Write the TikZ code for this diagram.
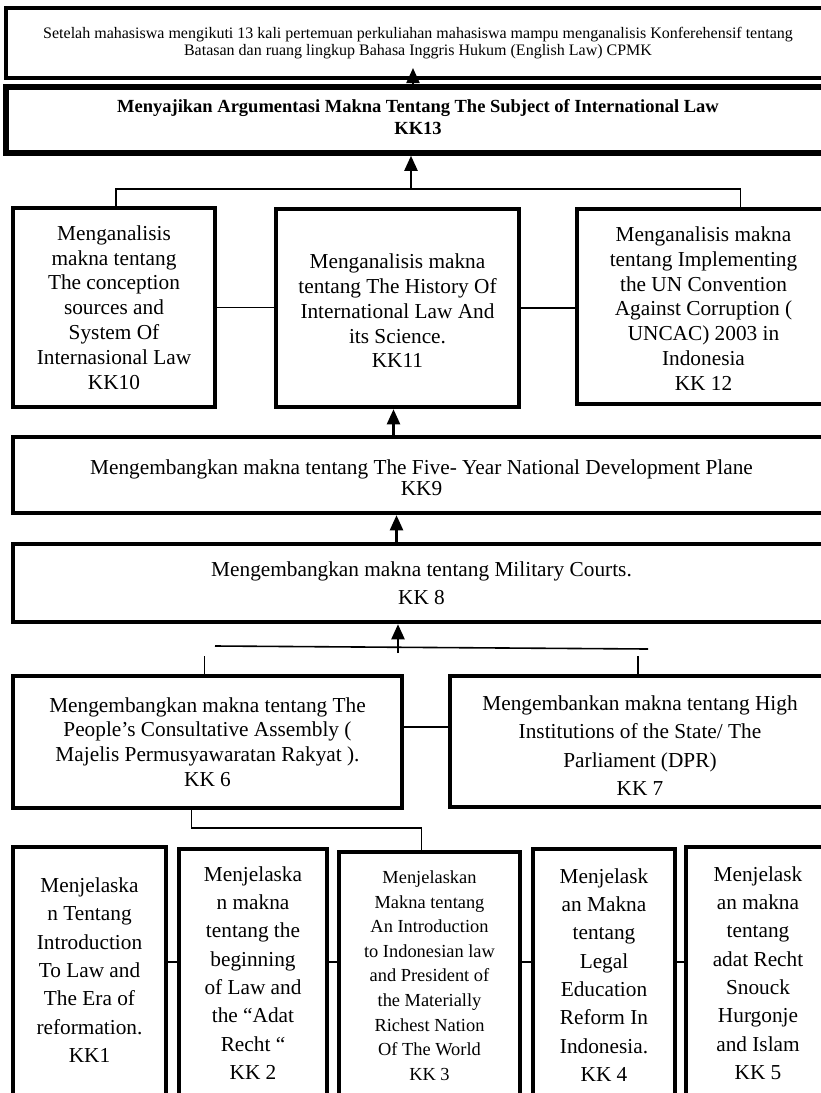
\documentclass[tikz,border=0pt]{standalone}
\usepackage{fontspec}
\setmainfont{Liberation Serif}
\usetikzlibrary{arrows.meta,fit}
\tikzset{
  kk map/.style={
    x=1pt, y=-1pt,
    box/.style={draw, line width=4.5pt, inner sep=0pt},
    label/.style={align=center, inner sep=0pt},
    link/.style={line width=1.6pt},
    up/.style={line width=2.2pt, -{Triangle[width=13pt,length=15pt]}},
  },
  small text/.style={font={\fontsize{16}{17}\selectfont}},
  bold text/.style={font={\fontsize{18.5}{22}\selectfont\bfseries}},
  mid text/.style={font={\fontsize{21.3}{24.8}\selectfont}},
  wide text/.style={font={\fontsize{21.3}{28.3}\selectfont}},
  low text/.style={font={\fontsize{18.4}{24.6}\selectfont}},
}
\newcommand{\kkbox}[6][]{
    \node[box,#1,fit={(#3) (#4)}] (#2) {};
    \node[label,#1] (#2 text) at ([yshift={-(#5)}]#2.center) {#6};
}

\begin{document}
\begin{tikzpicture}[kk map]
    \useasboundingbox (0,0) rectangle (821,1093);
    \fill[white] (0,0) rectangle (821,1093);

    \kkbox[small text, line width=4pt]{cpmk}{6,8}{830,78}{0}{Setelah mahasiswa mengikuti 13 kali pertemuan perkuliahan mahasiswa mampu menganalisis Konferehensif tentang\\ Batasan dan ruang lingkup Bahasa Inggris Hukum (English Law) CPMK}
    \kkbox[bold text, line width=5.5pt]{kk13}{6,87}{830,153}{-3}{Menyajikan Argumentasi Makna Tentang The Subject of International Law\\ KK13}

    \kkbox[mid text]{kk10}{13,208}{215,407}{0}{Menganalisis\\ makna tentang\\ The conception\\ sources and\\ System Of\\ Internasional Law\\ KK10}
    \kkbox[mid text]{kk11}{276,209}{519,407}{3}{Menganalisis makna\\ tentang The History Of\\ International Law And\\ its Science.\\ KK11}
    \kkbox[mid text]{kk12}{577,209}{830,404}{2}{Menganalisis makna\\ tentang Implementing\\ the UN Convention\\ Against Corruption (\\ UNCAC) 2003 in\\ Indonesia\\ KK 12}

    \kkbox[mid text, font={\fontsize{21.3}{21}\selectfont}]{kk9}{13,437}{830,513}{3}{Mengembangkan makna tentang The Five- Year National Development Plane\\ KK9}
    \kkbox[wide text]{kk8}{13,544}{830,622}{0}{Mengembangkan makna tentang Military Courts.\\ KK 8}

    \kkbox[mid text]{kk6}{13,676}{402,808}{0}{Mengembangkan makna tentang The\\ People’s Consultative Assembly (\\ Majelis Permusyawaratan Rakyat ).\\ KK 6}
    \kkbox[wide text]{kk7}{450,676}{830,807}{4}{Mengembankan makna tentang High\\ Institutions of the State/ The\\ Parliament (DPR)\\ KK 7}

    \kkbox[wide text]{kk1}{13,847}{166,1097}{-2}{Menjelaska\\ n Tentang\\ Introduction\\ To Law and\\ The Era of\\ reformation.\\ KK1}
    \kkbox[wide text]{kk2}{179,849}{327,1097}{0}{Menjelaska\\ n makna\\ tentang the\\ beginning\\ of Law and\\ the “Adat\\ Recht “\\ KK 2}
    \kkbox[low text]{kk3}{339,852}{520,1097}{1}{Menjelaskan\\ Makna tentang\\ An Introduction\\ to Indonesian law\\ and President of\\ the Materially\\ Richest Nation\\ Of The World\\ KK 3}
    \kkbox[wide text]{kk4}{533,849}{675,1097}{2}{Menjelask\\ an Makna\\ tentang\\ Legal\\ Education\\ Reform In\\ Indonesia.\\ KK 4}
    \kkbox[wide text]{kk5}{686,847}{830,1097}{1}{Menjelask\\ an makna\\ tentang\\ adat Recht\\ Snouck\\ Hurgonje\\ and Islam\\ KK 5}

    % upper part
    \coordinate (cpmktip) at (413,68);
    \draw[up] (kk13.north -| cpmktip) -- (cpmktip);
    \coordinate (jtop) at (411,189);
    \draw[link] ([xshift=2]kk10.north) |- (jtop) -| ([xshift=37]kk12.north);
    \draw[up] (jtop) -- (jtop |- kk13.south);
    \draw[link] (kk10.east) -- (kk10.east -| kk11.west);
    \draw[link] (kk11.east) -- (kk11.east -| kk12.west);
    \draw[up] ([xshift=-4]kk11.south |- kk9.north) -- ([xshift=-4]kk11.south);
    \draw[up] ([xshift=-25]kk8.north) -- ([xshift=-25]kk9.south);

    % lower part
    \coordinate (jmidL) at (215,646);
    \coordinate (jmidR) at (648,649);
    \coordinate (jmid) at (398,653);
    \draw[link] (jmidL) -- (jmidR);
    \draw[up] (jmid) -- (jmid |- kk8.south);
    \draw[link] ([xshift=-3]kk6.north) -- ++(0,-18);
    \draw[link] ([xshift=-2]kk7.north) -- ++(0,-18);
    \draw[link] ([yshift=15]kk6.east) -- ([yshift=15]kk6.east -| kk7.west);
    \coordinate (jlow) at (300,828);
    \draw[link] ([xshift=-16]kk6.south) |- (jlow) -| ([xshift=-8]kk3.north);
    \coordinate (jrow) at (0,962);
    \foreach \a/\b in {kk1/kk2,kk2/kk3,kk3/kk4,kk4/kk5}
        \draw[link] (\a.east |- jrow) -- (\b.west |- jrow);
\end{tikzpicture}
\end{document}
